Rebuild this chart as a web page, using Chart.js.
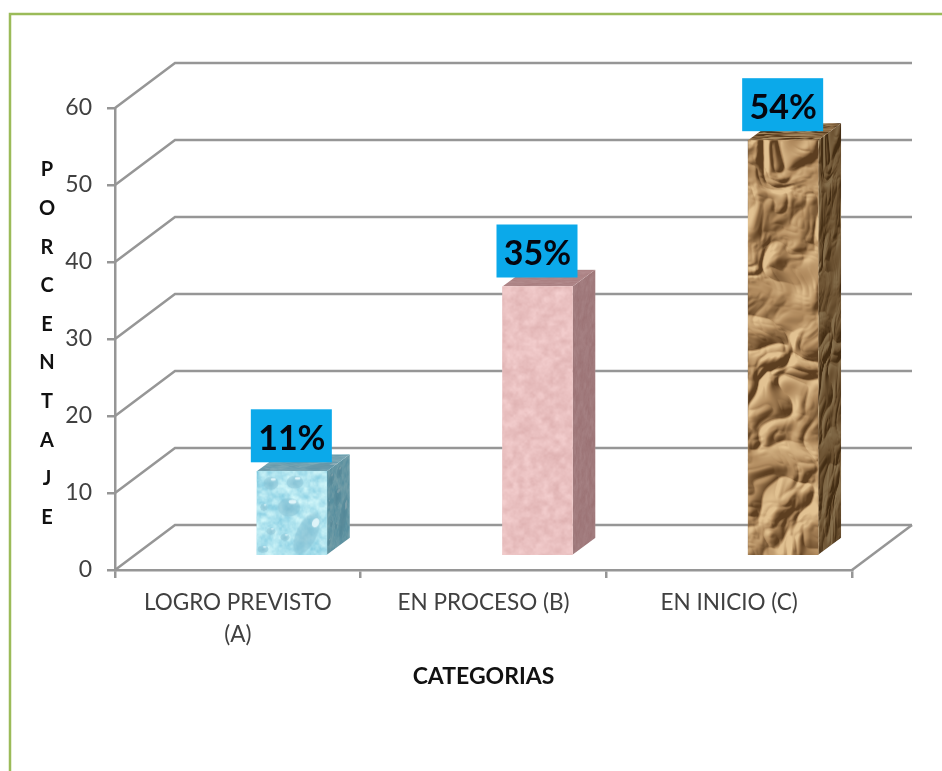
<!DOCTYPE html>
<html lang="es">
<head>
<meta charset="UTF-8">
<title>Porcentaje por categorias</title>
<script src="https://cdn.jsdelivr.net/npm/chart.js"></script>
<style>
html, body { margin: 0; background: #fff; }
canvas { display: block; }
</style>
</head>
<body>
<canvas id="chart" width="942" height="771"></canvas>
<script>
const categorias = [['LOGRO PREVISTO', '(A)'], 'EN PROCESO (B)', 'EN INICIO (C)'];
const porcentajes = [11, 35, 54];
const tituloY = 'PORCENTAJE';
const tituloX = 'CATEGORIAS';

const GRIS = '#969696';
const BAR_W = 70;
const FLOOR = {dx: 60, dy: -45};   // depth of the back wall
const BAR_SHIFT = {dx: 54, dy: -14}; // bars stand inside the floor, not on the front edge
const BAR_DEPTH = {dx: 23, dy: -17};

// smooth value noise, only for the bar textures
function hash(x, y) {
    const s = Math.sin(x * 12.9898 + y * 78.233) * 43758.5453;
    return s - Math.floor(s);
}
function vnoise(x, y) {
    const ix = Math.floor(x), iy = Math.floor(y);
    let fx = x - ix, fy = y - iy;
    fx = fx * fx * (3 - 2 * fx);
    fy = fy * fy * (3 - 2 * fy);
    const a = hash(ix, iy), b = hash(ix + 1, iy), c = hash(ix, iy + 1), d = hash(ix + 1, iy + 1);
    return a + (b - a) * fx + (c - a) * fy + (a - b - c + d) * fx * fy;
}
function fbm(x, y) {
    return vnoise(x, y) * 0.55 + vnoise(x * 2.1, y * 2.1) * 0.3 + vnoise(x * 4.3, y * 4.3) * 0.15;
}
function tile(w, h, paint) {
    const c = document.createElement('canvas');
    c.width = w; c.height = h;
    paint(c.getContext('2d'), w, h);
    return c;
}
function fillPixels(ctx, w, h, fn) {
    const img = ctx.createImageData(w, h);
    for (let y = 0; y < h; y++) {
        for (let x = 0; x < w; x++) {
            const p = fn(x, y), i = (y * w + x) * 4;
            img.data[i] = p[0]; img.data[i + 1] = p[1]; img.data[i + 2] = p[2]; img.data[i + 3] = 255;
        }
    }
    ctx.putImageData(img, 0, 0);
}

// water drops
const aguaTile = tile(BAR_W, 90, (ctx, w, h) => {
    fillPixels(ctx, w, h, (x, y) => {
        const n = fbm(x / 6, y / 6) - 0.5;
        return [176 + n * 100, 228 + n * 55, 239 + n * 32];
    });
    const gotas = [[14, 12, 8, 7, 0], [38, 11, 9, 7, 0], [32, 36, 12, 10, 0], [50, 62, 11, 24, 0.45],
                   [7, 36, 4, 4, 0], [14, 60, 5, 4, 0], [28, 66, 5, 4, 0], [6, 78, 6, 4, 0]];
    gotas.forEach(g => {
        ctx.save();
        ctx.translate(g[0], g[1]);
        ctx.rotate(g[4]);
        ctx.scale(g[2], g[3]);
        const gr = ctx.createRadialGradient(0, 0.2, 0.1, 0, 0, 1);
        gr.addColorStop(0, 'rgba(125,185,205,0.7)');
        gr.addColorStop(0.85, 'rgba(135,195,214,0.55)');
        gr.addColorStop(1, 'rgba(140,198,215,0)');
        ctx.fillStyle = gr;
        ctx.beginPath(); ctx.arc(0, 0, 1, 0, Math.PI * 2); ctx.fill();
        ctx.fillStyle = 'rgba(240,252,255,0.8)';
        ctx.beginPath(); ctx.ellipse(0.3, -0.55, 0.32, 0.2, 0, 0, Math.PI * 2); ctx.fill();
        ctx.restore();
    });
});

// pink marble
const rosaTile = tile(BAR_W, 270, (ctx, w, h) => {
    fillPixels(ctx, w, h, (x, y) => {
        const n = fbm(x / 6 + 40, y / 6) - 0.5 + (hash(x, y) - 0.5) * 0.08;
        return [234 + n * 26, 193 + n * 36, 193 + n * 36];
    });
});

// crumpled paper: ridged height field lit from the upper left
function alturaPapel(x, y) {
    const wx = x + (vnoise(x / 30, y / 30) - 0.5) * 24, wy = y + (vnoise(x / 30 + 7, y / 30 + 3) - 0.5) * 24;
    const r1 = Math.abs(vnoise(wx / 26, wy / 32) - 0.5);
    const r2 = Math.abs(vnoise(wx / 12 + 5, wy / 14 + 2) - 0.5);
    const r3 = Math.abs(vnoise(wx / 6 + 9, wy / 6 + 8) - 0.5);
    return r1 * 24 + r2 * 7 + r3 * 1.5;
}
const papelTile = tile(BAR_W, 420, (ctx, w, h) => {
    fillPixels(ctx, w, h, (x, y) => {
        const d = (alturaPapel(x + 1, y + 1) - alturaPapel(x - 1, y - 1)) * 0.5;
        const v = Math.max(-1, Math.min(1, d));
        const claro = [226, 194, 146], base = [176, 138, 94], oscuro = [92, 62, 32];
        const t = v > 0 ? claro : oscuro, k = Math.abs(v);
        return [base[0] + (t[0] - base[0]) * k, base[1] + (t[1] - base[1]) * k, base[2] + (t[2] - base[2]) * k];
    });
});

const texturas = [aguaTile, rosaTile, papelTile];
const tonoTapa = ['rgba(70,110,125,0.55)', 'rgba(90,50,55,0.42)', 'rgba(60,40,15,0.35)'];
const tonoLado = ['rgba(40,85,100,0.55)', 'rgba(70,35,40,0.45)', 'rgba(40,25,5,0.5)'];

const fondo3d = {
    id: 'fondo3d',
    beforeDraw(chart) {
        // page frame, only the top and left edges are in the picture
        const ctx = chart.ctx;
        ctx.save();
        ctx.strokeStyle = '#9BBB59';
        ctx.lineWidth = 2.5;
        ctx.beginPath();
        ctx.moveTo(10, 771); ctx.lineTo(10, 14); ctx.lineTo(942, 14);
        ctx.stroke();
        ctx.restore();
    },
    beforeDatasetsDraw(chart) {
        const ctx = chart.ctx, y = chart.scales.y, a = chart.chartArea;
        ctx.save();
        ctx.strokeStyle = GRIS;
        ctx.lineWidth = 2.5;
        y.ticks.forEach(t => {
            const py = y.getPixelForValue(t.value);
            ctx.beginPath();
            ctx.moveTo(a.left, py);
            ctx.lineTo(a.left + FLOOR.dx, py + FLOOR.dy);
            ctx.lineTo(a.right + FLOOR.dx, py + FLOOR.dy);
            ctx.stroke();
        });
        ctx.beginPath();
        ctx.moveTo(a.right, a.bottom);
        ctx.lineTo(a.right + FLOOR.dx, a.bottom + FLOOR.dy);
        ctx.stroke();
        ctx.restore();

        // everything in the dataset sits shifted into the floor
        ctx.save();
        ctx.translate(BAR_SHIFT.dx, BAR_SHIFT.dy);
        chart.getDatasetMeta(0).data.forEach((bar, i) => {
            const left = bar.x - bar.width / 2, right = bar.x + bar.width / 2;
            const h = bar.base - bar.y;
            // side face, the texture is squeezed into the depth
            ctx.save();
            ctx.beginPath();
            ctx.moveTo(right, bar.y);
            ctx.lineTo(right + BAR_DEPTH.dx, bar.y + BAR_DEPTH.dy);
            ctx.lineTo(right + BAR_DEPTH.dx, bar.base + BAR_DEPTH.dy);
            ctx.lineTo(right, bar.base);
            ctx.closePath();
            ctx.clip();
            ctx.save();
            ctx.transform(BAR_DEPTH.dx / BAR_W, BAR_DEPTH.dy / BAR_W, 0, 1, right, bar.y);
            ctx.drawImage(texturas[i], 0, 0, BAR_W, h);
            ctx.restore();
            ctx.fillStyle = tonoLado[i];
            ctx.fillRect(right, bar.y + BAR_DEPTH.dy, BAR_DEPTH.dx, h - BAR_DEPTH.dy);
            ctx.restore();
            // top face
            ctx.save();
            ctx.beginPath();
            ctx.moveTo(left, bar.y);
            ctx.lineTo(left + BAR_DEPTH.dx, bar.y + BAR_DEPTH.dy);
            ctx.lineTo(right + BAR_DEPTH.dx, bar.y + BAR_DEPTH.dy);
            ctx.lineTo(right, bar.y);
            ctx.closePath();
            ctx.clip();
            ctx.drawImage(texturas[i], left, bar.y + BAR_DEPTH.dy, BAR_W + BAR_DEPTH.dx, -BAR_DEPTH.dy);
            ctx.fillStyle = tonoTapa[i];
            ctx.fillRect(left, bar.y + BAR_DEPTH.dy, BAR_W + BAR_DEPTH.dx, -BAR_DEPTH.dy);
            ctx.restore();
        });
    },
    afterDatasetsDraw(chart) {
        const ctx = chart.ctx;
        ctx.restore();
        // value boxes
        ctx.save();
        ctx.textAlign = 'center';
        ctx.textBaseline = 'middle';
        chart.getDatasetMeta(0).data.forEach((bar, i) => {
            const cx = bar.x + BAR_SHIFT.dx, top = bar.y + BAR_SHIFT.dy;
            ctx.fillStyle = '#0BA9EA';
            ctx.fillRect(cx - 41, top - 62, 81, 53);
            ctx.fillStyle = '#05060F';
            ctx.font = 'bold 34px Lato, sans-serif';
            ctx.fillText(porcentajes[i] + '%', cx, top - 32);
        });
        // the vertical title is stacked letter by letter
        ctx.fillStyle = '#111111';
        ctx.font = 'bold 20px Lato, sans-serif';
        tituloY.split('').forEach((letra, i) => {
            ctx.fillText(letra, 47, 170 + i * 38.6);
        });
        ctx.restore();
    }
};

new Chart(document.getElementById('chart').getContext('2d'), {
    type: 'bar',
    data: {
        labels: categorias,
        datasets: [{
            data: porcentajes,
            barThickness: BAR_W,
            borderWidth: 0,
            clip: false,
            backgroundColor(c) {
                if (c.dataIndex === undefined) return '#ccc';
                const scale = c.chart.scales.x, yScale = c.chart.scales.y;
                const p = c.chart.ctx.createPattern(texturas[c.dataIndex], 'repeat');
                const px = scale.getPixelForValue(c.dataIndex) - BAR_W / 2;
                const py = yScale.getPixelForValue(porcentajes[c.dataIndex]);
                p.setTransform(new DOMMatrix().translate(px, py));
                return p;
            }
        }]
    },
    options: {
        responsive: false,
        animation: false,
        events: [],
        layout: {padding: {top: 108, right: 90, left: 0, bottom: 81}},
        plugins: {legend: {display: false}, tooltip: {enabled: false}, title: {display: false}},
        scales: {
            x: {
                afterFit(s) { s.height = 120; },
                border: {color: GRIS, width: 2.5},
                grid: {drawOnChartArea: false, color: GRIS, lineWidth: 2.5, tickLength: 8, tickColor: GRIS},
                ticks: {
                    color: '#404040', maxRotation: 0, autoSkip: false, padding: 9,
                    font: {family: 'Lato, sans-serif', size: 22.5, lineHeight: 1.42}
                },
                title: {
                    display: true, text: tituloX, color: '#111111', align: 'center',
                    font: {family: 'Lato, sans-serif', size: 23, weight: 'bold'},
                    padding: {top: 10, bottom: 0}
                }
            },
            y: {
                min: 0, max: 60,
                afterFit(s) { s.width = 115; },
                border: {color: GRIS, width: 2.5},
                grid: {drawOnChartArea: false, color: GRIS, lineWidth: 2.5, tickLength: 8, tickColor: GRIS},
                ticks: {
                    stepSize: 10, color: '#404040', padding: 15,
                    font: {family: 'Lato, sans-serif', size: 23}
                }
            }
        }
    },
    plugins: [fondo3d]
});
</script>
</body>
</html>
